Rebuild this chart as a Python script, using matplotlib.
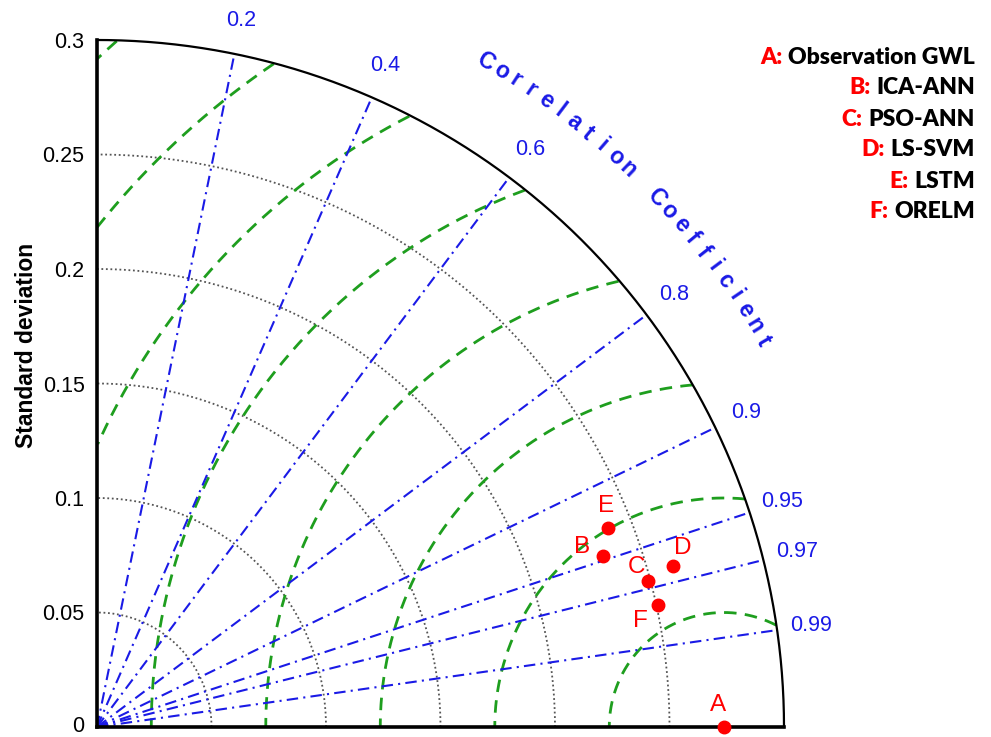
import numpy as np
import matplotlib
matplotlib.use("Agg")
import matplotlib.pyplot as plt
import matplotlib.transforms as mtransforms

# Taylor diagram: standard deviation (radius) vs correlation (angle)
MODELS = ["A", "B", "C", "D", "E", "F"]
NAMES = ["Observation GWL", "ICA-ANN", "PSO-ANN", "LS-SVM", "LSTM", "ORELM"]
STD = [0.2737, 0.2333, 0.2488, 0.2613, 0.2396, 0.2505]
CORR = [1.0, 0.9472, 0.9664, 0.9633, 0.9322, 0.9773]

STD_MAX = 0.3
STD_RINGS = [0.05, 0.10, 0.15, 0.20, 0.25]
RMS_RINGS = [0.05, 0.10, 0.15, 0.20, 0.25, 0.30, 0.35, 0.40]
CORR_TICKS = [0.2, 0.4, 0.6, 0.8, 0.9, 0.95, 0.97, 0.99]
Y_TICKS = [0, 0.05, 0.1, 0.15, 0.2, 0.25, 0.3]
Y_TICKLABELS = ["0", "0.05", "0.1", "0.15", "0.2", "0.25", "0.3"]

# label offsets (points) for each marker
LABEL_OFFSETS = [(-4, 15.5), (-15, 6), (-8, 10), (6.5, 13.5), (-1.5, 16), (-12.5, -11.5)]

BLUE = "#1a1ae6"
GREEN = "#1e9e1e"
RED = "#ff0000"
TICK_FONT = "Liberation Sans"

fig = plt.figure(figsize=(9.91, 7.37), dpi=100)
W, H = 991, 737
ax = fig.add_axes([97 / W, 10 / H, 687 / W, 687 / H])
ax.set_xlim(0, STD_MAX)
ax.set_ylim(0, STD_MAX)

theta = np.linspace(0, np.pi / 2, 400)

# std rings
for r in STD_RINGS:
    ax.plot(r * np.cos(theta), r * np.sin(theta), color="#555555",
            linestyle=(0, (1, 1.5)), linewidth=1.3, zorder=1)

# centred RMS rings around the observation
ref = STD[0]
phi = np.linspace(0, np.pi, 1200)
for r in RMS_RINGS:
    x = ref + r * np.cos(phi)
    y = r * np.sin(phi)
    ok = (np.hypot(x, y) <= STD_MAX) & (x >= 0)
    x = np.where(ok, x, np.nan)
    y = np.where(ok, y, np.nan)
    ax.plot(x, y, color=GREEN, linestyle=(0, (4.5, 3)), linewidth=2.0, zorder=2)

# correlation rays and labels
for c in CORR_TICKS:
    a = np.arccos(c)
    ax.plot([0, STD_MAX * np.cos(a)], [0, STD_MAX * np.sin(a)], color=BLUE,
            linestyle=(0, (5.5, 2.5, 1, 2.5)), linewidth=1.5, zorder=3)
    rl = 0.315
    ax.text(rl * np.cos(a), rl * np.sin(a), f"{c:g}", color=BLUE,
            fontsize=15.5, family=TICK_FONT, ha="center", va="center",
            clip_on=False)

# outer arc
ax.plot(STD_MAX * np.cos(theta), STD_MAX * np.sin(theta), color="black",
        linewidth=1.6, zorder=4, clip_on=False)

# curved axis title
rt = 0.3365
title_words = ["Correlation", "Coefficient"]
starts = [59.7, 43.4]
step = 1.33
for word, start in zip(title_words, starts):
    for k, ch in enumerate(word):
        ang = np.deg2rad(start - k * step)
        ax.text(rt * np.cos(ang), rt * np.sin(ang), ch, color=BLUE,
                fontsize=16.5, fontweight="bold", family=TICK_FONT,
                rotation=np.rad2deg(ang) - 90, rotation_mode="anchor",
                ha="center", va="center", clip_on=False)

# markers
for name, s, c, off in zip(MODELS, STD, CORR, LABEL_OFFSETS):
    a = np.arccos(c)
    x, y = s * np.cos(a), s * np.sin(a)
    ax.plot(x, y, "o", color=RED, markersize=9, zorder=6, clip_on=False)
    ax.annotate(name, (x, y), xytext=off, textcoords="offset points",
                color=RED, fontsize=17.5, family=TICK_FONT,
                ha="center", va="center", zorder=7)

for side in ("top", "right"):
    ax.spines[side].set_visible(False)
for side in ("left", "bottom"):
    ax.spines[side].set_linewidth(2.6)
    ax.spines[side].set_zorder(5)
ax.set_xticks([])
ax.set_yticks(Y_TICKS)
ax.set_yticklabels(Y_TICKLABELS, family=TICK_FONT, fontsize=15.5)
ax.tick_params(axis="y", length=0, pad=9)
ax.patch.set_visible(False)

# keep the bottom "0" inside the canvas
zero_label = ax.get_yticklabels()[0]
zero_label.set_transform(zero_label.get_transform() +
                         mtransforms.ScaledTranslation(0, 2 / 72, fig.dpi_scale_trans))

fig.text(27 / W, 1 - 345 / H, "Standard deviation", rotation=90,
         ha="center", va="center", family=TICK_FONT, fontsize=16.5,
         fontweight="bold")

# legend text, right aligned
fig.canvas.draw()
renderer = fig.canvas.get_renderer()
x_right = 975 / W
for i, (m, n) in enumerate(zip(MODELS, NAMES)):
    yc = 1 - (57 + i * 31) / H
    t = fig.text(x_right, yc, n, ha="right", va="center", color="black",
                 family="Lato", fontweight="heavy", fontsize=16.5)
    bb = t.get_window_extent(renderer)
    fig.text((bb.x0 - 6) / W, yc, m + ":", ha="right", va="center",
             color=RED, family="Lato", fontweight="heavy", fontsize=16.5)

fig.savefig("out.png", dpi=100)
